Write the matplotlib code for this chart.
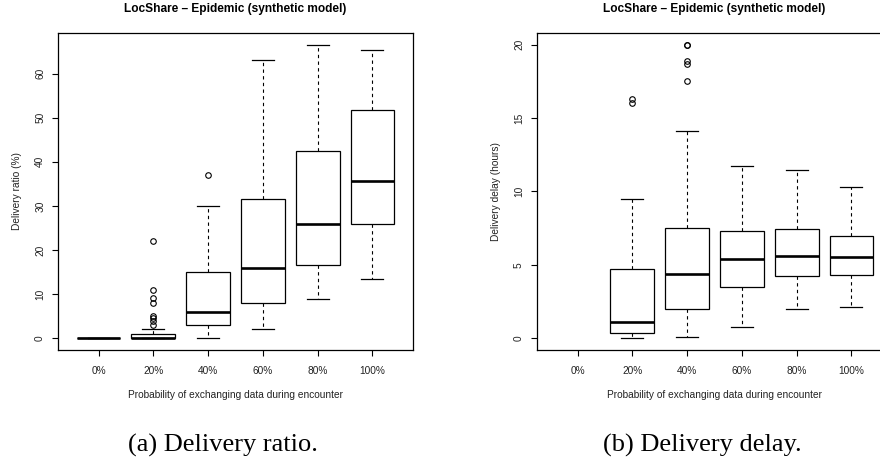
import matplotlib.pyplot as plt

# x categories
labels = ['0%', '20%', '40%', '60%', '80%', '100%']

# (a) delivery ratio (%) - box statistics
ratio_whislo = [0, 0, 0, 2.1, 9.0, 13.4]
ratio_q1 = [0, 0, 3.0, 8.0, 16.6, 25.8]
ratio_med = [0, 0, 6.0, 16.0, 26.0, 35.6]
ratio_q3 = [0, 1.0, 15.0, 31.5, 42.4, 51.8]
ratio_whishi = [0, 2.0, 30.0, 63.0, 66.4, 65.3]
ratio_fliers = [[], [22, 11, 9.2, 8.1, 5.1, 4.6, 3.9, 2.9], [37], [], [], []]

# (b) delivery delay (hours) - nothing delivered at 0%
delay_whislo = [None, 0.02, 0.09, 0.77, 2.02, 2.11]
delay_q1 = [None, 0.39, 1.98, 3.52, 4.25, 4.34]
delay_med = [None, 1.14, 4.41, 5.43, 5.63, 5.54]
delay_q3 = [None, 4.72, 7.49, 7.31, 7.47, 6.95]
delay_whishi = [None, 9.52, 14.12, 11.76, 11.47, 10.29]
delay_fliers = [[], [16.3, 16.0], [20.0, 19.95, 18.9, 18.7, 17.5], [], [], []]

plt.rcParams['font.family'] = ['Liberation Sans', 'DejaVu Sans']

fig = plt.figure(figsize=(8.8, 4.61), dpi=100)


def make_stats(lo, q1, med, q3, hi, fl):
    stats, pos = [], []
    for i in range(len(labels)):
        if med[i] is None:
            continue
        stats.append(dict(whislo=lo[i], q1=q1[i], med=med[i], q3=q3[i],
                          whishi=hi[i], fliers=fl[i]))
        pos.append(i + 1)
    return stats, pos


def draw_panel(ax, stats, pos, ylabel, yticks, ylim):
    ax.bxp(stats, positions=pos, widths=0.8, patch_artist=True,
           boxprops=dict(facecolor='white', edgecolor='black', linewidth=0.9),
           medianprops=dict(color='black', linewidth=1.9),
           whiskerprops=dict(color='black', linewidth=0.8, linestyle=(0, (3, 3))),
           capprops=dict(color='black', linewidth=0.9),
           flierprops=dict(marker='o', markersize=4, markerfacecolor='none',
                           markeredgecolor='black', markeredgewidth=0.8))
    ax.set_xlim(0.26, 6.74)
    ax.set_ylim(*ylim)
    ax.set_xticks(range(1, 7))
    ax.set_xticklabels(labels)
    ax.set_yticks(yticks)
    ax.set_yticklabels([str(t) for t in yticks], rotation=90, va='center')
    ax.tick_params(length=4.3, width=0.8, labelsize=7.3, color='black',
                   labelcolor='#222222')
    ax.tick_params(axis='x', pad=7.5)
    ax.tick_params(axis='y', pad=5)
    for s in ax.spines.values():
        s.set_linewidth(0.9)
    ax.set_xlabel('Probability of exchanging data during encounter', fontsize=7.3,
                  labelpad=9.5, color='#222222')
    ax.set_ylabel(ylabel, fontsize=7.3, labelpad=9.5, color='#222222')
    ax.set_title('LocShare \u2013 Epidemic (synthetic model)', fontsize=8.6,
                 fontweight='bold', pad=15)


ax1 = fig.add_axes([0.0659, 0.2408, 0.4034, 0.6876])
st, ps = make_stats(ratio_whislo, ratio_q1, ratio_med, ratio_q3, ratio_whishi, ratio_fliers)
draw_panel(ax1, st, ps, 'Delivery ratio (%)', [0, 10, 20, 30, 40, 50, 60], (-2.66, 69.2))

ax2 = fig.add_axes([0.6102, 0.2408, 0.4034, 0.6876])
st, ps = make_stats(delay_whislo, delay_q1, delay_med, delay_q3, delay_whishi, delay_fliers)
draw_panel(ax2, st, ps, 'Delivery delay (hours)', [0, 5, 10, 15, 20], (-0.8, 20.8))

fig.text(223 / 880, 1 - 445 / 461, '(a) Delivery ratio.', family='Liberation Serif',
         fontsize=19, ha='center', va='center')
fig.text(702 / 880, 1 - 445 / 461, '(b) Delivery delay.', family='Liberation Serif',
         fontsize=19, ha='center', va='center')

fig.savefig('out.png', dpi=100)
